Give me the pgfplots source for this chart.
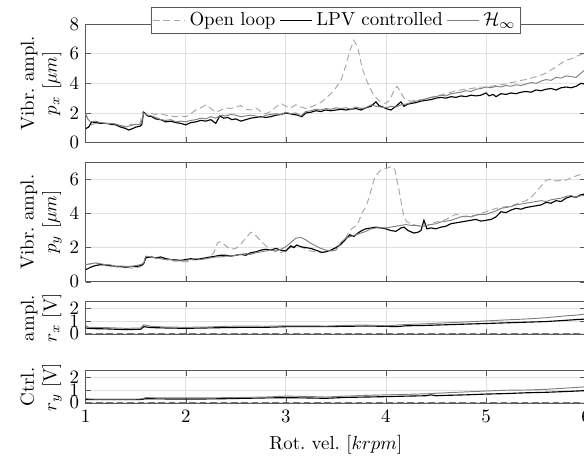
\documentclass[border=0pt]{standalone}
\usepackage{pgfplots}
\pgfplotsset{compat=1.18}

\pgfplotsset{
  base/.style={
    scale only axis, width=265.2pt, xmin=1, xmax=6,
    xtick={1,2,3,4,5,6},
    grid=major, grid style={black!12, line width=0.4pt},
    axis line style={black!65}, tick style={black!65},
    major tick length=3pt,
    ylabel style={align=center, at={(axis description cs:-0.089,0.5)}, anchor=center},
  },
  ol/.style={black!35, dash pattern=on 3.5pt off 2pt, line width=0.5pt},
  olz/.style={black!55, dash pattern=on 3.5pt off 2pt, line width=0.5pt},
  lpv/.style={black, line width=0.6pt},
  hinf/.style={black!50, line width=0.5pt},
}

\begin{document}
\begin{tikzpicture}

% p_x
\begin{axis}[base, at={(0pt,0pt)}, anchor=north west, height=62.9pt,
  ymin=0, ymax=8, ytick={0,2,4,6,8}, xticklabels={},
  ylabel={Vibr.\ ampl.\\ $p_x$ [$\mu m$]},
  legend columns=-1,
  legend style={at={(0.5,1)}, anchor=center, yshift=2pt, draw=black!65, fill=white,
    inner sep=0.5pt, /tikz/every even column/.append style={column sep=0pt}}]
\addplot[ol] coordinates {
(1.00,1.95) (1.03,1.50) (1.06,1.20) (1.10,1.30) (1.15,1.35) (1.20,1.30) (1.25,1.20) (1.30,1.25) (1.35,1.15) (1.40,1.10) (1.45,1.25) (1.50,1.20) (1.54,1.25) (1.57,2.05) (1.62,1.95) (1.66,1.95) (1.70,1.90) (1.75,1.95) (1.80,1.85) (1.85,1.80) (1.90,1.75) (1.95,1.80) (2.00,1.75) (2.05,1.95) (2.10,2.20) (2.15,2.35) (2.20,2.55) (2.25,2.30) (2.30,2.05) (2.35,2.20) (2.40,2.35) (2.45,2.30) (2.50,2.40) (2.55,2.50) (2.60,2.25) (2.65,2.20) (2.70,2.35) (2.75,2.10) (2.80,1.95) (2.85,2.10) (2.90,2.40) (2.95,2.65) (3.00,2.45) (3.05,2.35) (3.10,2.55) (3.15,2.40) (3.20,2.30) (3.25,2.40) (3.30,2.55) (3.35,2.70) (3.40,3.00) (3.45,3.30) (3.50,3.70) (3.55,4.20) (3.60,5.20) (3.64,6.20) (3.68,6.90) (3.72,6.40) (3.76,5.10) (3.80,4.30) (3.84,3.70) (3.88,3.20) (3.92,2.90) (3.96,2.70) (4.00,2.65) (4.04,2.90) (4.08,3.50) (4.11,3.80) (4.14,3.50) (4.18,3.00) (4.22,2.85) (4.26,2.80) (4.30,2.85) (4.35,2.90) (4.40,2.95) (4.45,3.05) (4.50,3.15) (4.55,3.20) (4.60,3.30) (4.65,3.40) (4.70,3.50) (4.75,3.55) (4.80,3.60) (4.85,3.65) (4.90,3.70) (4.95,3.75) (5.00,3.75) (5.05,3.80) (5.10,3.85) (5.15,3.90) (5.20,3.95) (5.25,4.05) (5.30,4.10) (5.35,4.20) (5.40,4.25) (5.45,4.35) (5.50,4.45) (5.55,4.55) (5.60,4.70) (5.65,4.90) (5.70,5.10) (5.75,5.35) (5.80,5.55) (5.85,5.65) (5.90,5.80) (5.95,5.95) (6.00,6.05)};
\addlegendentry{Open loop}
\addplot[lpv] coordinates {
(1.00,0.95) (1.03,1.05) (1.06,1.40) (1.10,1.35) (1.15,1.30) (1.20,1.30) (1.25,1.25) (1.30,1.20) (1.35,1.05) (1.40,0.95) (1.43,0.85) (1.47,0.95) (1.50,1.05) (1.54,1.10) (1.56,1.20) (1.58,2.05) (1.62,1.80) (1.66,1.75) (1.70,1.60) (1.75,1.55) (1.80,1.40) (1.85,1.45) (1.90,1.35) (1.95,1.30) (2.00,1.20) (2.05,1.35) (2.10,1.40) (2.15,1.50) (2.20,1.45) (2.25,1.55) (2.30,1.30) (2.34,1.80) (2.38,1.65) (2.42,1.70) (2.46,1.55) (2.50,1.60) (2.55,1.45) (2.60,1.55) (2.65,1.65) (2.70,1.70) (2.75,1.75) (2.80,1.70) (2.85,1.75) (2.90,1.85) (2.95,1.90) (3.00,2.00) (3.04,1.95) (3.08,1.90) (3.12,1.85) (3.16,1.75) (3.20,2.00) (3.25,2.05) (3.30,2.15) (3.35,2.10) (3.40,2.20) (3.45,2.15) (3.50,2.20) (3.55,2.25) (3.60,2.20) (3.65,2.25) (3.70,2.30) (3.75,2.20) (3.80,2.35) (3.85,2.45) (3.90,2.75) (3.93,2.50) (3.97,2.40) (4.00,2.30) (4.05,2.20) (4.10,2.45) (4.15,2.75) (4.18,2.45) (4.22,2.60) (4.26,2.65) (4.30,2.70) (4.35,2.80) (4.40,2.85) (4.45,2.90) (4.50,3.00) (4.55,3.05) (4.60,3.00) (4.65,3.10) (4.70,3.05) (4.75,3.15) (4.80,3.10) (4.85,3.20) (4.90,3.15) (4.95,3.20) (5.00,3.35) (5.03,3.15) (5.07,3.25) (5.10,3.10) (5.15,3.30) (5.20,3.25) (5.25,3.35) (5.30,3.30) (5.35,3.40) (5.40,3.45) (5.45,3.40) (5.50,3.55) (5.55,3.50) (5.60,3.60) (5.65,3.65) (5.70,3.55) (5.75,3.70) (5.80,3.75) (5.85,3.70) (5.90,3.80) (5.95,4.00) (5.98,3.95) (6.00,4.05)};
\addlegendentry{LPV controlled}
\addplot[hinf] coordinates {
(1.00,1.95) (1.02,1.60) (1.05,1.40) (1.10,1.45) (1.15,1.35) (1.20,1.30) (1.25,1.30) (1.30,1.25) (1.35,1.15) (1.40,1.05) (1.45,1.15) (1.50,1.25) (1.54,1.20) (1.56,1.40) (1.58,2.00) (1.62,1.85) (1.66,1.80) (1.70,1.70) (1.75,1.55) (1.80,1.50) (1.85,1.55) (1.90,1.40) (1.95,1.45) (2.00,1.40) (2.05,1.50) (2.10,1.55) (2.15,1.65) (2.20,1.60) (2.25,1.75) (2.30,1.65) (2.35,1.85) (2.40,1.80) (2.45,1.90) (2.50,1.85) (2.55,1.75) (2.60,1.80) (2.65,1.85) (2.70,1.80) (2.75,1.70) (2.80,1.85) (2.85,1.90) (2.90,1.95) (2.95,1.90) (3.00,2.05) (3.05,1.95) (3.10,2.00) (3.15,1.80) (3.20,2.10) (3.25,2.15) (3.30,2.25) (3.35,2.20) (3.40,2.30) (3.45,2.25) (3.50,2.35) (3.55,2.30) (3.60,2.35) (3.65,2.25) (3.70,2.40) (3.75,2.30) (3.80,2.35) (3.85,2.55) (3.90,2.45) (3.95,2.40) (4.00,2.35) (4.05,2.45) (4.10,2.40) (4.15,2.55) (4.20,2.60) (4.25,2.70) (4.30,2.80) (4.35,2.85) (4.40,2.95) (4.45,3.05) (4.50,3.10) (4.55,3.20) (4.60,3.15) (4.65,3.30) (4.70,3.35) (4.75,3.40) (4.80,3.50) (4.85,3.45) (4.90,3.60) (4.95,3.65) (5.00,3.75) (5.05,3.70) (5.10,3.80) (5.15,3.75) (5.20,3.85) (5.25,3.80) (5.30,3.90) (5.35,3.85) (5.40,3.95) (5.45,4.05) (5.50,4.00) (5.55,4.15) (5.60,4.25) (5.65,4.20) (5.70,4.40) (5.75,4.35) (5.80,4.50) (5.85,4.45) (5.90,4.40) (5.95,4.70) (6.00,4.95)};
\addlegendentry{$\mathcal{H}_\infty$}
\end{axis}

% p_y
\begin{axis}[base, at={(0pt,-73.3pt)}, anchor=north west, height=63.3pt,
  ymin=0, ymax=7, ytick={0,2,4,6}, xticklabels={},
  ylabel={Vibr.\ ampl.\\ $p_y$ [$\mu m$]}]
\addplot[ol] coordinates {
(1.00,1.00) (1.05,1.05) (1.10,1.10) (1.15,1.00) (1.20,0.95) (1.25,0.90) (1.30,0.85) (1.35,0.90) (1.40,0.85) (1.45,0.80) (1.50,0.80) (1.55,0.90) (1.58,1.00) (1.60,1.40) (1.65,1.45) (1.70,1.40) (1.75,1.35) (1.80,1.30) (1.85,1.25) (1.90,1.20) (1.95,1.20) (2.00,1.15) (2.05,1.25) (2.10,1.30) (2.15,1.30) (2.20,1.35) (2.25,1.50) (2.28,1.70) (2.32,2.30) (2.35,2.35) (2.40,2.10) (2.45,1.90) (2.50,1.95) (2.55,2.20) (2.60,2.55) (2.65,2.90) (2.70,2.70) (2.75,2.40) (2.80,2.10) (2.85,1.90) (2.90,1.75) (2.95,1.70) (3.00,1.85) (3.05,2.00) (3.10,2.10) (3.15,2.05) (3.20,1.90) (3.25,1.80) (3.30,1.75) (3.35,1.70) (3.40,1.75) (3.45,1.85) (3.50,2.00) (3.54,2.10) (3.60,2.60) (3.64,3.00) (3.68,3.20) (3.71,3.30) (3.74,3.70) (3.76,4.00) (3.80,4.40) (3.83,4.90) (3.86,5.55) (3.89,6.15) (3.92,6.35) (3.94,6.50) (3.98,6.60) (4.03,6.70) (4.06,6.75) (4.09,6.55) (4.13,5.40) (4.16,4.40) (4.18,3.80) (4.21,3.50) (4.25,3.40) (4.30,3.30) (4.35,3.25) (4.40,3.25) (4.45,3.40) (4.50,3.50) (4.55,3.55) (4.60,3.65) (4.65,3.80) (4.70,3.95) (4.75,3.85) (4.80,3.80) (4.85,3.85) (4.90,3.90) (4.95,4.00) (5.00,4.10) (5.05,4.20) (5.10,4.30) (5.15,4.35) (5.20,4.40) (5.25,4.45) (5.30,4.55) (5.35,4.65) (5.40,4.75) (5.45,4.95) (5.50,5.25) (5.55,5.60) (5.60,5.95) (5.65,6.00) (5.70,5.90) (5.75,5.95) (5.80,5.95) (5.85,6.10) (5.90,6.20) (5.95,6.30) (6.00,6.40)};
\addplot[lpv] coordinates {
(1.00,0.70) (1.05,0.85) (1.10,0.95) (1.15,1.00) (1.20,0.98) (1.25,0.95) (1.30,0.90) (1.35,0.88) (1.40,0.85) (1.45,0.90) (1.50,0.88) (1.55,0.95) (1.58,1.05) (1.60,1.40) (1.65,1.45) (1.70,1.40) (1.75,1.45) (1.80,1.35) (1.85,1.30) (1.90,1.28) (1.95,1.25) (2.00,1.30) (2.05,1.35) (2.10,1.30) (2.15,1.35) (2.20,1.40) (2.25,1.45) (2.30,1.50) (2.35,1.55) (2.40,1.55) (2.45,1.50) (2.50,1.55) (2.55,1.60) (2.60,1.55) (2.65,1.70) (2.70,1.75) (2.75,1.85) (2.80,1.90) (2.85,1.85) (2.90,1.95) (2.95,1.85) (3.00,1.80) (3.05,2.10) (3.08,2.00) (3.11,2.15) (3.15,2.05) (3.20,2.00) (3.25,1.95) (3.30,1.85) (3.36,1.72) (3.40,1.75) (3.45,1.85) (3.50,2.00) (3.55,2.20) (3.60,2.50) (3.64,2.75) (3.68,2.65) (3.72,2.85) (3.76,3.00) (3.80,3.10) (3.85,3.15) (3.90,3.20) (3.95,3.15) (4.00,3.10) (4.05,3.00) (4.10,2.95) (4.15,3.15) (4.18,3.20) (4.22,3.00) (4.28,2.85) (4.32,2.90) (4.35,3.00) (4.38,3.60) (4.41,3.10) (4.45,3.15) (4.50,3.10) (4.55,3.20) (4.60,3.25) (4.65,3.40) (4.70,3.45) (4.75,3.50) (4.80,3.55) (4.85,3.60) (4.90,3.65) (4.95,3.55) (5.00,3.60) (5.05,3.65) (5.10,3.80) (5.15,4.10) (5.20,4.05) (5.25,4.20) (5.30,4.30) (5.35,4.25) (5.40,4.35) (5.45,4.40) (5.50,4.45) (5.55,4.50) (5.60,4.65) (5.65,4.60) (5.70,4.75) (5.75,4.70) (5.80,4.90) (5.85,5.00) (5.90,4.95) (5.95,5.10) (6.00,5.15)};
\addplot[hinf] coordinates {
(1.00,1.00) (1.05,1.05) (1.10,1.10) (1.15,1.05) (1.20,1.00) (1.25,0.98) (1.30,0.90) (1.35,0.92) (1.40,0.90) (1.45,0.88) (1.50,0.95) (1.55,1.00) (1.58,1.10) (1.60,1.50) (1.65,1.45) (1.70,1.40) (1.75,1.35) (1.80,1.30) (1.85,1.30) (1.90,1.25) (1.95,1.22) (2.00,1.25) (2.05,1.30) (2.10,1.35) (2.15,1.30) (2.20,1.35) (2.25,1.40) (2.30,1.45) (2.35,1.45) (2.40,1.50) (2.45,1.50) (2.50,1.55) (2.55,1.60) (2.60,1.65) (2.65,1.60) (2.70,1.70) (2.75,1.75) (2.80,1.80) (2.85,1.85) (2.90,1.80) (2.95,1.90) (3.00,2.05) (3.05,2.30) (3.10,2.55) (3.15,2.60) (3.20,2.45) (3.25,2.25) (3.30,2.10) (3.35,1.95) (3.40,1.85) (3.45,1.80) (3.50,1.85) (3.55,2.30) (3.60,2.55) (3.65,2.65) (3.70,2.75) (3.75,2.85) (3.80,2.95) (3.85,3.10) (3.90,3.15) (3.95,3.15) (4.00,3.15) (4.05,3.20) (4.10,3.25) (4.15,3.30) (4.20,3.35) (4.25,3.30) (4.30,3.30) (4.35,3.25) (4.40,3.30) (4.45,3.35) (4.50,3.40) (4.55,3.50) (4.60,3.55) (4.65,3.60) (4.70,3.70) (4.75,3.80) (4.80,3.85) (4.85,3.80) (4.90,3.90) (4.95,3.95) (5.00,3.95) (5.05,4.05) (5.10,4.15) (5.15,4.30) (5.20,4.35) (5.25,4.40) (5.30,4.50) (5.35,4.55) (5.40,4.60) (5.45,4.65) (5.50,4.70) (5.55,4.75) (5.60,4.70) (5.65,4.80) (5.70,4.85) (5.75,4.90) (5.80,5.00) (5.85,5.05) (5.90,4.95) (5.95,5.05) (6.00,5.05)};
\end{axis}

% r_x
\begin{axis}[base, at={(0pt,-147.2pt)}, anchor=north west, height=17.3pt,
  ymin=-0.05, ymax=2.5, ytick={0,1,2}, xticklabels={},
  ylabel={ampl.\\ $r_x$ [V]}]
\addplot[olz] coordinates {(1,0) (6,0)};
\addplot[lpv] coordinates {
(1.00,0.45) (1.05,0.40) (1.20,0.38) (1.40,0.32) (1.55,0.35) (1.58,0.55) (1.65,0.48) (1.80,0.45) (2.00,0.42) (2.20,0.45) (2.40,0.48) (2.60,0.50) (2.80,0.50) (3.00,0.55) (3.20,0.55) (3.40,0.55) (3.60,0.58) (3.80,0.60) (4.00,0.58) (4.10,0.55) (4.20,0.62) (4.40,0.65) (4.60,0.70) (4.80,0.75) (5.00,0.80) (5.20,0.85) (5.40,0.90) (5.60,0.95) (5.80,1.05) (5.90,1.10) (6.00,1.15)};
\addplot[hinf] coordinates {
(1.00,0.65) (1.03,0.50) (1.20,0.48) (1.40,0.42) (1.55,0.45) (1.58,0.70) (1.65,0.58) (1.80,0.52) (2.00,0.50) (2.20,0.52) (2.40,0.58) (2.60,0.60) (2.80,0.58) (3.00,0.62) (3.20,0.62) (3.40,0.60) (3.60,0.65) (3.80,0.68) (4.00,0.62) (4.20,0.72) (4.40,0.78) (4.60,0.85) (4.80,0.92) (5.00,1.00) (5.20,1.08) (5.40,1.15) (5.60,1.25) (5.80,1.40) (5.90,1.45) (6.00,1.55)};
\end{axis}

% r_y
\begin{axis}[base, at={(0pt,-183.8pt)}, anchor=north west, height=17.3pt,
  ymin=-0.05, ymax=2.5, ytick={0,1,2},
  xlabel={Rot.\ vel.\ [$krpm$]},
  ylabel={Ctrl.\\ $r_y$ [V]}]
\addplot[olz] coordinates {(1,0) (6,0)};
\addplot[lpv] coordinates {
(1.00,0.25) (1.20,0.25) (1.40,0.25) (1.55,0.25) (1.60,0.32) (1.80,0.30) (2.00,0.30) (2.20,0.30) (2.40,0.32) (2.60,0.35) (2.80,0.38) (3.00,0.40) (3.20,0.38) (3.40,0.35) (3.60,0.42) (3.80,0.45) (4.00,0.48) (4.20,0.52) (4.40,0.55) (4.45,0.62) (4.50,0.55) (4.60,0.58) (4.80,0.62) (5.00,0.68) (5.20,0.72) (5.40,0.78) (5.60,0.82) (5.80,0.88) (6.00,0.95)};
\addplot[hinf] coordinates {
(1.00,0.35) (1.03,0.30) (1.20,0.28) (1.40,0.28) (1.55,0.30) (1.60,0.40) (1.80,0.38) (2.00,0.38) (2.20,0.38) (2.40,0.40) (2.60,0.42) (2.80,0.45) (3.00,0.52) (3.20,0.50) (3.40,0.45) (3.60,0.52) (3.80,0.58) (4.00,0.62) (4.20,0.66) (4.40,0.70) (4.60,0.78) (4.80,0.85) (5.00,0.92) (5.20,0.98) (5.40,1.00) (5.60,1.05) (5.80,1.15) (6.00,1.25)};
\end{axis}

\pgfresetboundingbox
\path[use as bounding box] (-45.4pt,12.7pt) rectangle (264.1pt,-232.7pt);
\end{tikzpicture}
\end{document}
